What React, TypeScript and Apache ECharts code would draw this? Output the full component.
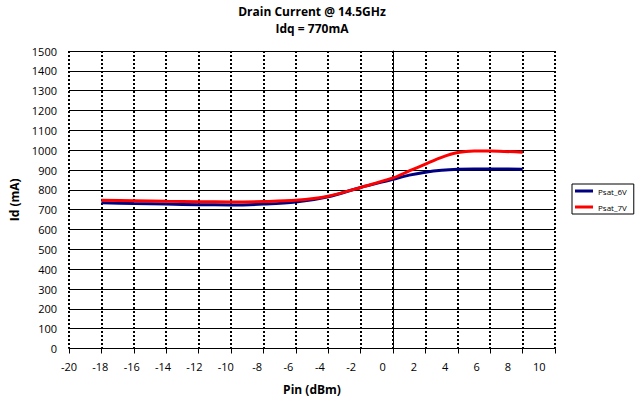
import React, { useEffect, useRef } from "react";
import * as echarts from "echarts";

const pinValues = [-18, -16, -14, -12, -10, -8, -6, -4, -2, 0, 1, 2, 3, 4, 5, 6, 8];
const psat6V = [735, 731, 728, 725, 724, 728, 738, 765, 812, 853, 874, 889, 899, 904, 905, 905, 904];
const psat7V = [748, 745, 742, 740, 739, 741, 747, 768, 812, 860, 895, 930, 964, 988, 996, 996, 989];
const seriesNames = ["Psat_6V", "Psat_7V"];
const titleLines = ["Drain Current @ 14.5GHz", "Idq = 770mA"];
const xAxisName = "Pin (dBm)";
const yAxisName = "Id (mA)";

const FONT = "'Open Sans', 'Noto Sans', sans-serif";

export default function App() {
  const ref = useRef<HTMLDivElement>(null);

  useEffect(() => {
    if (!ref.current) return;
    const chart = echarts.init(ref.current, undefined, { renderer: "svg" });
    const toPairs = (vals: number[]) => pinValues.map((x, i) => [x, vals[i]]);

    chart.setOption({
      animation: false,
      backgroundColor: "#fff",
      textStyle: { fontFamily: FONT },
      graphic: [
        {
          type: "text",
          x: 312,
          y: 5,
          style: {
            text: titleLines[0],
            fontFamily: FONT,
            fontSize: 12,
            fontWeight: "bold",
            fill: "#000",
            textAlign: "center",
            textVerticalAlign: "top",
          },
        },
        {
          type: "text",
          x: 312,
          y: 22,
          style: {
            text: titleLines[1],
            fontFamily: FONT,
            fontSize: 12,
            fontWeight: "bold",
            fill: "#000",
            textAlign: "center",
            textVerticalAlign: "top",
          },
        },
      ],
      grid: { left: 69, right: 82, top: 51, bottom: 53.5, containLabel: false },
      legend: {
        orient: "vertical",
        left: 572,
        top: 184,
        data: seriesNames,
        icon: "rect",
        itemWidth: 18,
        itemHeight: 3,
        itemGap: 6,
        padding: [2, 7, 2, 3],
        borderColor: "#000",
        borderWidth: 1,
        backgroundColor: "#fff",
        borderRadius: 0,
        textStyle: { fontFamily: FONT, fontSize: 8, color: "#000", lineHeight: 10 },
      },
      xAxis: [
        {
          type: "value",
          min: -20,
          max: 10,
          interval: 2,
          position: "bottom",
          name: xAxisName,
          nameLocation: "middle",
          nameGap: 35,
          nameTextStyle: { fontFamily: FONT, fontSize: 12, fontWeight: "bold", color: "#000" },
          axisLine: { show: true, onZero: false, lineStyle: { color: "#000", width: 1 } },
          axisTick: { show: true, length: 5, inside: false, lineStyle: { color: "#000" } },
          axisLabel: { show: false },
          splitLine: { show: true, lineStyle: { color: "#000", width: 2, type: [2, 2] } },
        },
        {
          type: "value",
          min: -20,
          max: 11,
          interval: 2,
          position: "bottom",
          offset: 0,
          axisLine: { show: false },
          axisTick: { show: false },
          splitLine: { show: false },
          axisLabel: {
            show: true,
            margin: 12,
            fontFamily: FONT,
            fontSize: 11,
            color: "#000",
            showMaxLabel: false,
            formatter: (v: number) => (Number.isInteger(v) && v % 2 === 0 ? String(v) : ""),
          },
        },
      ],
      yAxis: {
        type: "value",
        min: 0,
        max: 1500,
        interval: 100,
        name: yAxisName,
        nameLocation: "middle",
        nameGap: 48,
        nameRotate: 90,
        nameTextStyle: { fontFamily: FONT, fontSize: 12, fontWeight: "bold", color: "#000" },
        axisLine: { show: true, lineStyle: { color: "#000", width: 1 } },
        axisTick: { show: true, length: 5, lineStyle: { color: "#000" } },
        axisLabel: {
          margin: 12,
          fontFamily: FONT,
          fontSize: 11,
          color: "#000",
          formatter: (v: number) => String(v),
        },
        splitLine: { show: true, lineStyle: { color: "#000", width: 1, type: "solid" } },
      },
      series: [
        {
          name: seriesNames[0],
          type: "line",
          xAxisIndex: 0,
          data: toPairs(psat6V),
          smooth: 0.3,
          showSymbol: false,
          symbol: "none",
          lineStyle: { color: "#000080", width: 3 },
          itemStyle: { color: "#000080" },
        },
        {
          name: seriesNames[1],
          type: "line",
          xAxisIndex: 0,
          data: toPairs(psat7V),
          smooth: 0.3,
          showSymbol: false,
          symbol: "none",
          lineStyle: { color: "#ff0000", width: 3 },
          itemStyle: { color: "#ff0000" },
        },
      ],
    });

    return () => chart.dispose();
  }, []);

  return (
    <div
      ref={ref}
      style={{ position: "fixed", left: 0, top: 0, width: 637, height: 402, background: "#fff" }}
    />
  );
}
